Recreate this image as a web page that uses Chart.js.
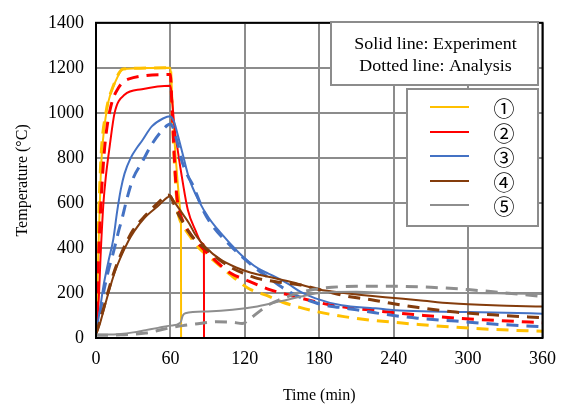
<!DOCTYPE html>
<html>
<head>
<meta charset="utf-8">
<script src="https://cdn.jsdelivr.net/npm/chart.js@4/dist/chart.umd.min.js"></script>
<style>
html,body{margin:0;padding:0;background:#fff;}
#wrap{width:566px;height:408px;}
</style>
</head>
<body>
<div id="wrap"><canvas id="c" width="566" height="408"></canvas></div>
<script>
// ---- tick labels / text ----
const xTicks = [0, 60, 120, 180, 240, 300, 360];
const yTicks = [0, 200, 400, 600, 800, 1000, 1200, 1400];
const xTitle = 'Time (min)';
const yTitle = 'Temperature (\u00B0C)';
const noteLines = ['Solid line: Experiment', 'Dotted line: Analysis'];
const seriesLabels = ['\u2460', '\u2461', '\u2462', '\u2463', '\u2464'];
const seriesColors = ['#FFC000', '#FF0000', '#4472C4', '#843C0C', '#8E8E8E'];

// ---- series 1 (yellow) ----
const t1Exp = [0, 2, 4, 6, 10, 15, 22, 60, 61, 62, 63, 64, 65, 66, 67, 68, 68.5, 68.6];
const v1Exp = [20, 400, 750, 900, 1050, 1130, 1195, 1200, 1120, 1000, 900, 820, 750, 680, 620, 570, 540, 0];
const t1Ana = [0, 2, 4, 8, 14, 22, 60, 61, 62, 63, 64, 65, 66, 68, 71, 76, 83, 95, 109, 123, 137, 150, 165, 180, 200, 220, 240, 260, 290, 320, 360];
const v1Ana = [20, 500, 800, 1000, 1120, 1195, 1200, 1050, 920, 800, 700, 620, 560, 520, 490, 450, 400, 344, 278, 220, 190, 160, 135, 115, 95, 80, 70, 60, 48, 38, 30];

// ---- series 2 (red) ----
const t2Exp = [0, 2, 4, 6, 8, 11, 15, 23, 37, 60, 61.5, 63, 66, 70, 74, 80, 86, 87, 87.1];
const v2Exp = [20, 150, 400, 600, 720, 850, 1000, 1080, 1105, 1120, 1050, 950, 830, 690, 570, 480, 420, 410, 0];
const t2Ana = [0, 2, 4, 6, 8, 12, 18, 26, 60, 61, 62, 63, 64, 65, 67, 70, 77, 84, 95, 108, 122, 140, 156, 172, 188, 204, 220, 236, 259, 291, 323, 360];
const v2Ana = [20, 350, 600, 780, 900, 1030, 1110, 1150, 1170, 1060, 940, 820, 720, 640, 570, 520, 455, 410, 350, 290, 255, 215, 190, 168, 148, 135, 125, 115, 103, 88, 78, 68];

// ---- series 3 (blue) ----
const t3Exp = [0, 3, 6, 10, 14, 17, 20, 23, 28, 33, 37, 45, 54, 60, 61, 63, 66, 70, 75, 83, 91, 100, 115, 123, 131, 139, 147, 155, 165, 177, 198, 225, 241, 270, 300, 330, 360];
const v3Exp = [20, 120, 230, 340, 440, 560, 660, 730, 800, 845, 875, 940, 975, 985, 980, 960, 900, 815, 710, 608, 533, 470, 380, 340, 308, 286, 265, 240, 205, 176, 145, 132, 123, 118, 115, 112, 108];
const t3Ana = [0, 3, 6, 10, 14, 18, 21, 25, 30, 37, 45, 53, 60, 62, 64, 66, 69, 74, 78, 81, 87, 95, 107, 115, 122, 131, 140, 150, 161, 170, 181, 196, 210, 225, 240, 259, 290, 320, 360];
const v3Ana = [20, 100, 200, 300, 380, 470, 530, 620, 710, 780, 860, 920, 950, 935, 900, 860, 790, 720, 680, 640, 560, 490, 418, 374, 340, 300, 265, 225, 190, 170, 150, 136, 125, 112, 100, 88, 75, 62, 50];

// ---- series 4 (brown) ----
const t4Exp = [0, 3, 6, 10, 15, 20, 26, 31, 39, 50, 60, 62, 65, 70, 75, 80, 89, 100, 113, 125, 139, 160, 180, 200, 233, 260, 286, 320, 360];
const v4Exp = [15, 60, 120, 200, 290, 360, 430, 476, 533, 586, 630, 615, 590, 550, 510, 460, 400, 350, 313, 290, 272, 245, 215, 200, 181, 168, 154, 145, 140];
const t4Ana = [0, 5, 10, 15, 20, 25, 30, 40, 50, 58, 60, 65, 70, 75, 80, 90, 100, 110, 120, 130, 145, 165, 184, 203, 222, 240, 260, 290, 320, 360];
const v4Ana = [20, 110, 210, 300, 370, 430, 480, 545, 600, 635, 630, 565, 515, 470, 435, 390, 345, 310, 285, 265, 250, 235, 210, 185, 170, 152, 135, 115, 103, 90];

// ---- series 5 (gray) ----
const t5Exp = [0, 10, 20, 30, 40, 50, 60, 68, 70, 72, 90, 110, 130, 150, 170, 180, 210, 240, 270, 300, 330, 360];
const v5Exp = [15, 15, 18, 25, 35, 45, 55, 68, 100, 110, 118, 125, 140, 165, 190, 200, 205, 200, 200, 200, 198, 195];
const t5Ana = [0, 20, 40, 55, 70, 80, 97, 110, 118, 124, 131, 140, 149, 160, 175, 190, 210, 240, 270, 300, 330, 360];
const v5Ana = [12, 14, 22, 40, 55, 62, 72, 70, 64, 85, 115, 150, 172, 195, 215, 225, 230, 230, 225, 215, 200, 185];

const expT = [t1Exp, t2Exp, t3Exp, t4Exp, t5Exp];
const expV = [v1Exp, v2Exp, v3Exp, v4Exp, v5Exp];
const anaT = [t1Ana, t2Ana, t3Ana, t4Ana, t5Ana];
const anaV = [v1Ana, v2Ana, v3Ana, v4Ana, v5Ana];

function pts(ts, vs) { return ts.map((t, i) => ({ x: t, y: vs[i] })); }

const datasets = [];
for (let i = 4; i >= 0; i--) {
  datasets.push({
    label: seriesLabels[i] + ' exp',
    data: pts(expT[i], expV[i]),
    borderColor: seriesColors[i],
    borderWidth: 2,
    pointRadius: 0,
    cubicInterpolationMode: 'monotone',
    fill: false
  });
  datasets.push({
    label: seriesLabels[i] + ' ana',
    data: pts(anaT[i], anaV[i]),
    borderColor: seriesColors[i],
    borderWidth: 3,
    borderDash: [12, 8],
    pointRadius: 0,
    cubicInterpolationMode: 'monotone',
    fill: false
  });
}

const SERIF = "'Liberation Serif', 'Times New Roman', serif";

const overlay = {
  id: 'overlay',
  afterDraw(chart) {
    const ctx = chart.ctx;
    const a = chart.chartArea;
    ctx.save();
    // plot frame
    ctx.strokeStyle = '#000';
    ctx.lineWidth = 2;
    ctx.strokeRect(a.left, a.top, a.right - a.left, a.bottom - a.top);

    // note box
    const nb = { x: 331, y: 22, w: 207, h: 63 };
    ctx.fillStyle = '#fff';
    ctx.fillRect(nb.x, nb.y, nb.w, nb.h);
    ctx.strokeStyle = '#8C8C8C';
    ctx.lineWidth = 2;
    ctx.strokeRect(nb.x, nb.y, nb.w, nb.h);
    ctx.fillStyle = '#000';
    ctx.font = '16px ' + SERIF;
    ctx.textAlign = 'center';
    ctx.textBaseline = 'middle';
    const cx = nb.x + nb.w / 2 + 1;
    [45, 67].forEach((yy, i) => {
      ctx.save();
      ctx.translate(cx, yy);
      ctx.scale(1.12, 1);
      ctx.fillText(noteLines[i], 0, 0);
      ctx.restore();
    });

    // legend box
    const lb = { x: 407, y: 89, w: 131, h: 137 };
    ctx.fillStyle = '#fff';
    ctx.fillRect(lb.x, lb.y, lb.w, lb.h);
    ctx.strokeStyle = '#8C8C8C';
    ctx.lineWidth = 2;
    ctx.strokeRect(lb.x, lb.y, lb.w, lb.h);
    const ly = [107, 132, 156, 181, 205];
    for (let i = 0; i < 5; i++) {
      ctx.strokeStyle = seriesColors[i];
      ctx.lineWidth = 2;
      ctx.beginPath();
      ctx.moveTo(430, ly[i]);
      ctx.lineTo(469, ly[i]);
      ctx.stroke();
      ctx.fillStyle = '#000';
      ctx.font = "21px 'Noto Sans CJK JP', " + SERIF;
      ctx.textAlign = 'center';
      ctx.textBaseline = 'middle';
      ctx.fillText(seriesLabels[i], 504, ly[i] + 1);
    }
    ctx.restore();
  }
};

new Chart(document.getElementById('c'), {
  type: 'line',
  data: { datasets },
  options: {
    responsive: false,
    animation: false,
    events: [],
    layout: { padding: { left: 0, top: 20, right: 20, bottom: 0 } },
    plugins: { legend: { display: false }, tooltip: { enabled: false } },
    scales: {
      x: {
        type: 'linear',
        min: 0, max: 360,
        afterBuildTicks: s => { s.ticks = xTicks.map(v => ({ value: v })); },
        afterFit: s => { s.height = 70; },
        ticks: { color: '#000', font: { family: SERIF, size: 18 }, padding: 10, maxRotation: 0, callback: v => String(v) },
        grid: { color: '#8C8C8C', lineWidth: 2, drawTicks: false },
        border: { display: false },
        title: { display: true, text: xTitle, color: '#000', font: { family: SERIF, size: 16 }, padding: { top: 0, bottom: 3 } }
      },
      y: {
        type: 'linear',
        min: 0, max: 1400,
        afterBuildTicks: s => { s.ticks = yTicks.map(v => ({ value: v })); },
        afterFit: s => { s.width = 96; },
        ticks: { color: '#000', font: { family: SERIF, size: 18 }, padding: 12, callback: v => String(v) },
        grid: { color: '#8C8C8C', lineWidth: 2, drawTicks: false },
        border: { display: false },
        title: { display: true, text: yTitle, color: '#000', font: { family: SERIF, size: 16 }, padding: { top: 13, bottom: 0 } }
      }
    }
  },
  plugins: [overlay]
});
</script>
</body>
</html>
